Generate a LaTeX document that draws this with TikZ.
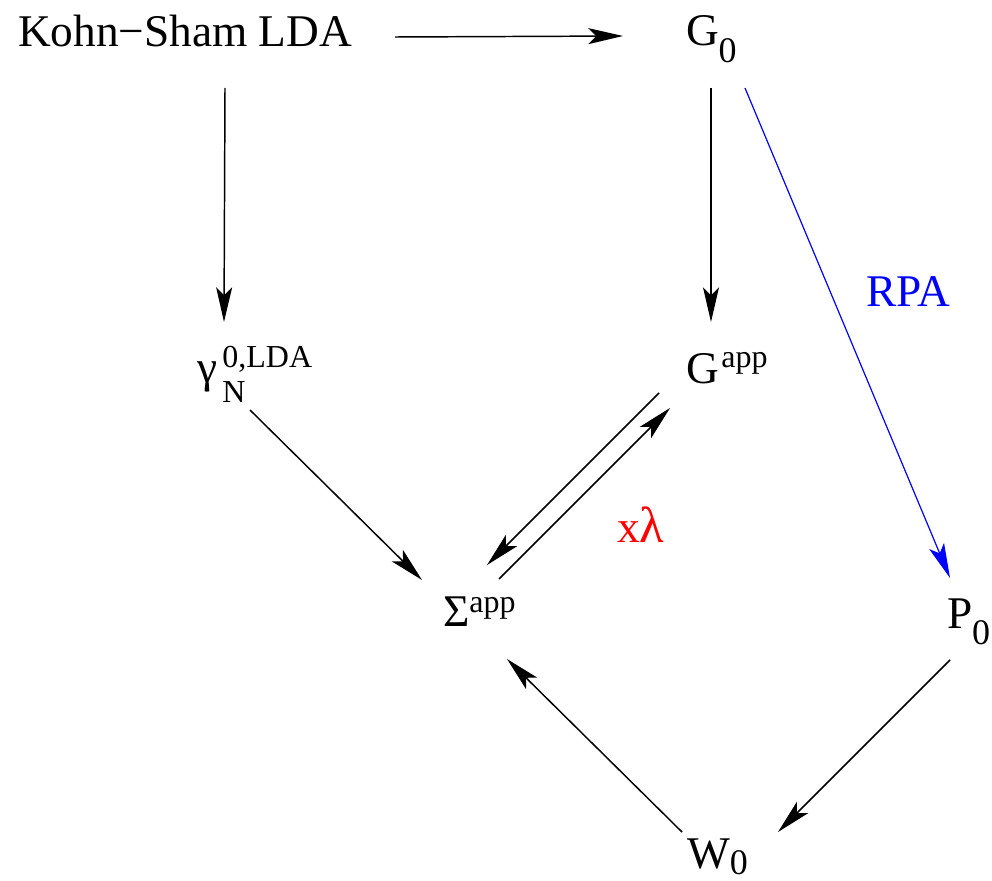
\documentclass[tikz,border=0pt]{standalone}
\usepackage{fontspec}
\setmainfont{Liberation Serif}
\usetikzlibrary{arrows.meta,calc}
\newcommand\mysup[2]{\raisebox{#2}{\fontsize{24}{24}\selectfont #1}}
\newcommand\mysub[2]{\raisebox{#2}{\fontsize{27}{27}\selectfont #1}}
\begin{document}
\begin{tikzpicture}[x=0.75pt,y=-0.75pt,
  lbl/.style={anchor=base west,inner sep=0pt,outer sep=0pt,font=\fontsize{34}{40}\selectfont},
  arr/.style={line width=1.1pt,-{Stealth[length=26pt,width=12pt,inset=6pt]}}]
\useasboundingbox (0,0) rectangle (992,881);
\node[lbl] (ks) at (18,47) {Kohn−Sham LDA};
\node[lbl] (g0) at (686,46) {G\mysub{0}{-12.5pt}};
\node[lbl] (gam) at (197,382) {γ\kern4pt\rlap{\mysup{0,LDA}{11pt}}\raisebox{-15pt}{\fontsize{24}{24}\selectfont N}};
\node[lbl] (gapp) at (686,383) {G\kern2pt\mysup{app}{12pt}};
\node[lbl] (sig) at (443,626) {Σ\mysup{app}{10pt}};
\node[lbl] (p0) at (947,628) {P\mysub{0}{-12.5pt}};
\node[lbl] (w0) at (687,868) {W\mysub{0}{-5pt}};
\node[lbl,text=blue] (rpa) at (866,306) {RPA};
\node[lbl,text=red] (xl) at (617,542) {x\fontsize{38}{40}\selectfont λ};
\draw[arr] ($(ks.base east)+(43,-10)$) -- ($(g0.base west)+(-63,-10)$);
\draw[arr] ($(ks.base west)+(207,41)$) -- ($(gam.base west)+(27,-60)$);
\draw[arr] ($(g0.base west)+(25,42)$) -- ($(gapp.base west)+(25,-61)$);
\draw[arr,blue,line width=0.9pt] ($(g0.base west)+(59,42)$) -- ($(p0.base west)+(3,-50)$);
\draw[arr] ($(gam.base west)+(53,28)$) -- ($(sig.base west)+(-21,-46)$);
\draw[arr] ($(gapp.base west)+(-27,10)$) -- ($(sig.base west)+(44,-61)$);
\draw[arr] ($(sig.base west)+(56,-47)$) -- ($(gapp.base west)+(-16,25)$);
\draw[arr] ($(w0.base west)+(-5,-36)$) -- ($(sig.base west)+(64,33)$);
\draw[arr] ($(p0.base west)+(3,32)$) -- ($(w0.base west)+(91,-36)$);
\end{tikzpicture}
\end{document}
